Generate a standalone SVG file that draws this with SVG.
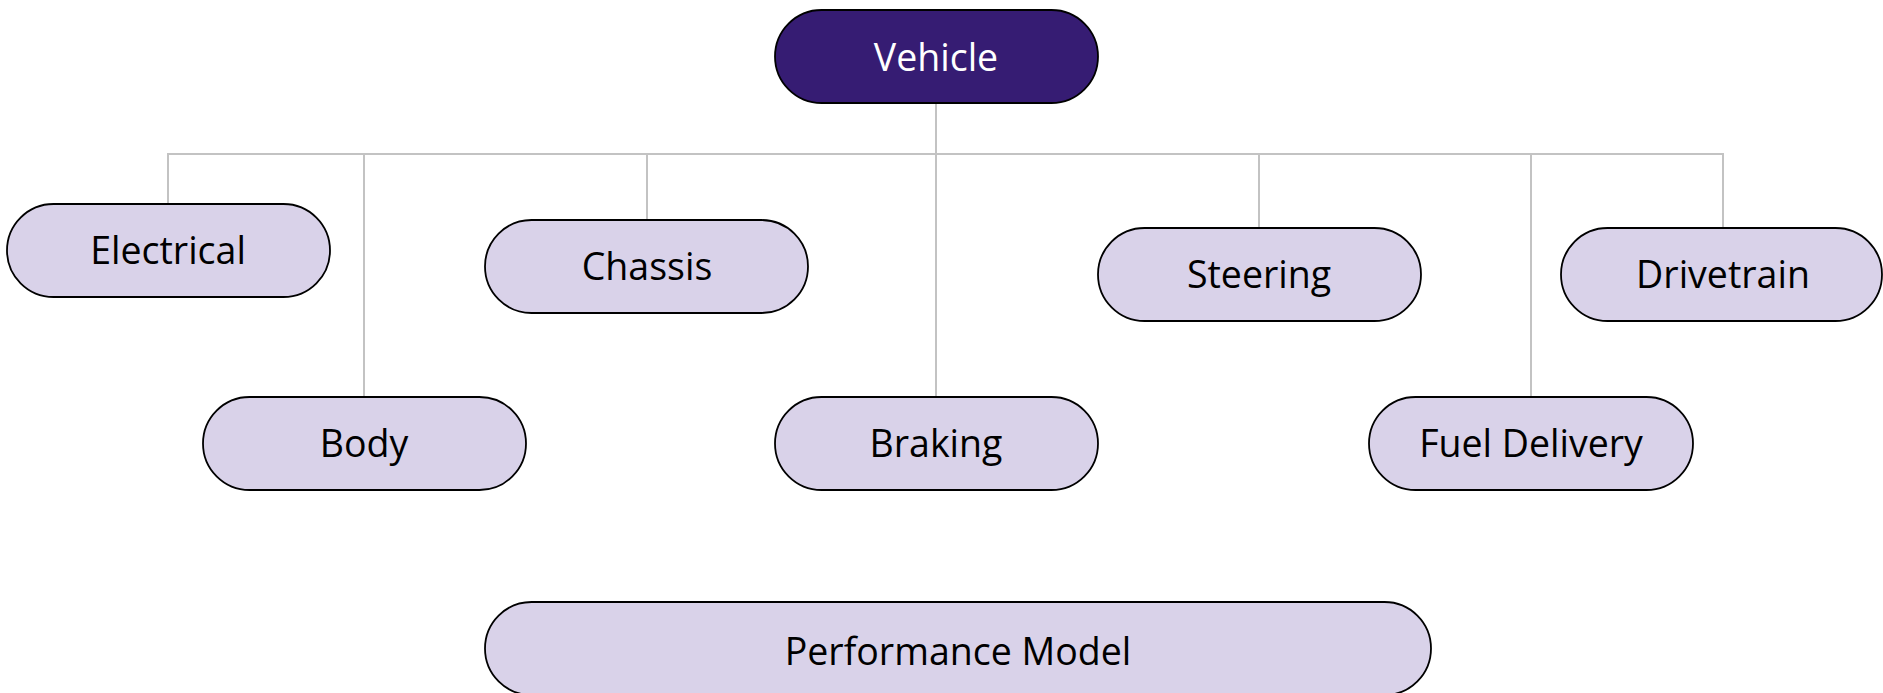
<svg xmlns="http://www.w3.org/2000/svg" width="1883" height="693" viewBox="0 0 1883 693">
<style>
.n{fill:#d9d2e9;stroke:#000;stroke-width:1.8}
.r{fill:#361c73;stroke:#000;stroke-width:1.8}
.t{font-family:"Open Sans",sans-serif;font-size:37.5px;fill:#000;text-anchor:middle}
.w{fill:#fff}
.c{stroke:#c3c3c3;stroke-width:2;fill:none}
</style>
<rect width="1883" height="693" fill="#fff"/>
<g id="connectors">
<path class="c" d="M936 103 V397"/>
<path class="c" d="M168 203 V154 H1723 V228"/>
<path class="c" d="M364 154 V397"/>
<path class="c" d="M647 154 V220"/>
<path class="c" d="M1259 154 V228"/>
<path class="c" d="M1531 154 V397"/>
</g>
<g id="vehicle"><rect class="r" x="775" y="10" width="323" height="93" rx="46.5"/><text class="t w" x="936" y="71">Vehicle</text></g>
<g id="electrical"><rect class="n" x="7" y="204" width="323" height="93" rx="46.5"/><text class="t" x="168" y="264">Electrical</text></g>
<g id="chassis"><rect class="n" x="485" y="220" width="323" height="93" rx="46.5"/><text class="t" x="647" y="280">Chassis</text></g>
<g id="steering"><rect class="n" x="1098" y="228" width="323" height="93" rx="46.5"/><text class="t" x="1259" y="288">Steering</text></g>
<g id="drivetrain"><rect class="n" x="1561" y="228" width="321" height="93" rx="46.5"/><text class="t" x="1723" y="288">Drivetrain</text></g>
<g id="body"><rect class="n" x="203" y="397" width="323" height="93" rx="46.5"/><text class="t" x="364" y="457">Body</text></g>
<g id="braking"><rect class="n" x="775" y="397" width="323" height="93" rx="46.5"/><text class="t" x="936" y="457">Braking</text></g>
<g id="fuel-delivery"><rect class="n" x="1369" y="397" width="324" height="93" rx="46.5"/><text class="t" x="1531" y="457">Fuel Delivery</text></g>
<g id="performance-model"><rect class="n" x="485" y="602" width="946" height="93" rx="46.5"/><text class="t" x="958" y="665">Performance Model</text></g>
</svg>
